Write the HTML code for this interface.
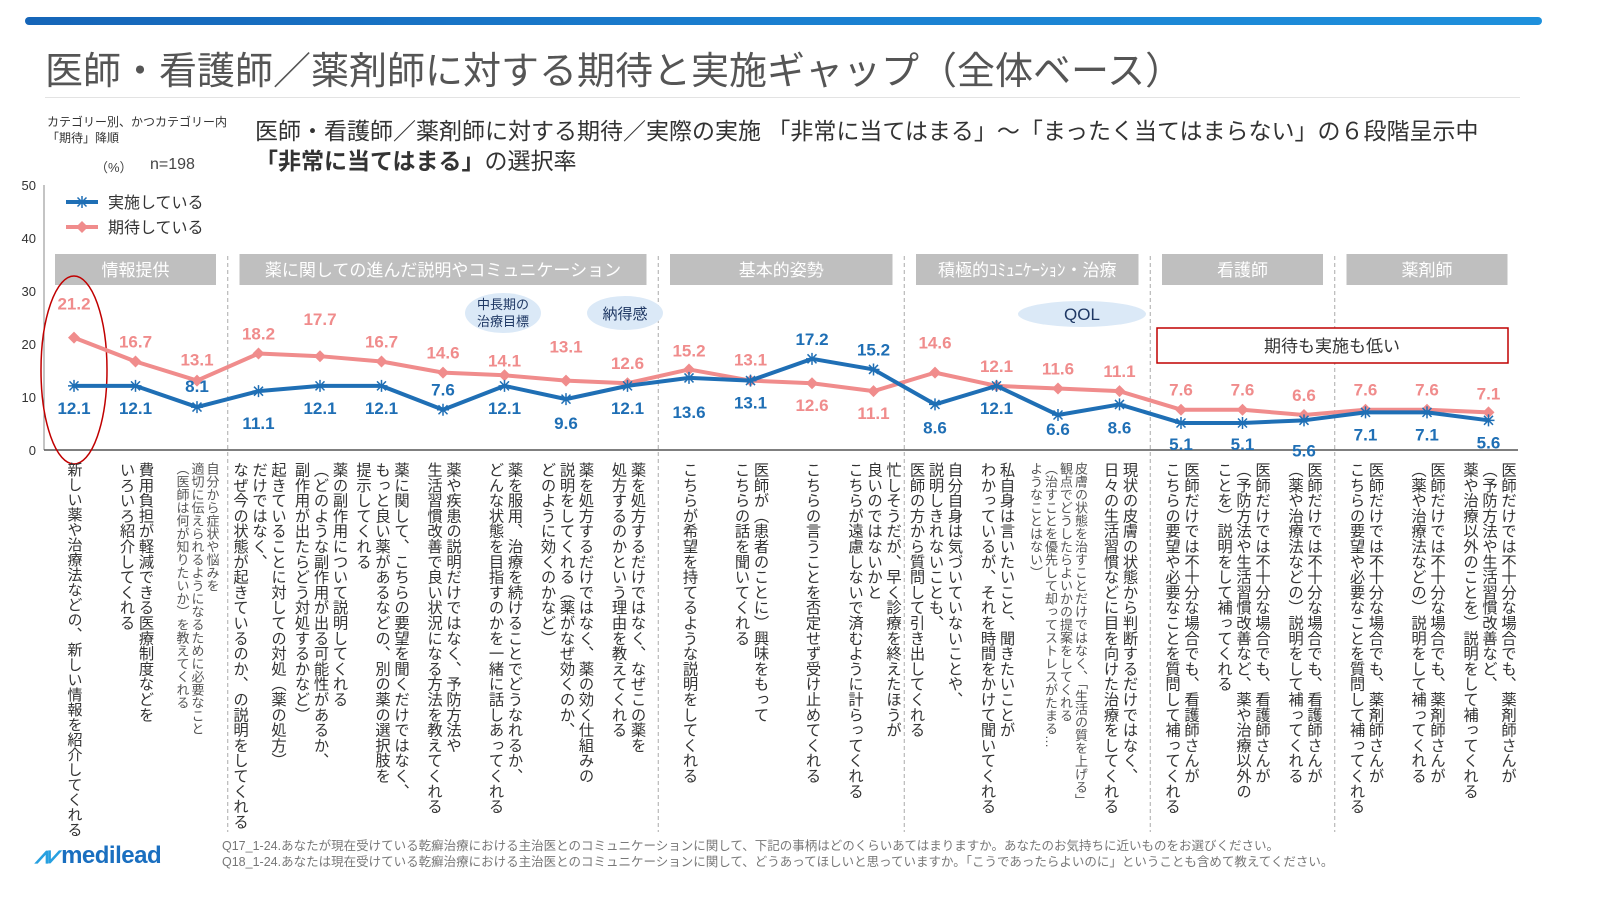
<!DOCTYPE html>
<html lang="ja"><head><meta charset="utf-8">
<style>
*{margin:0;padding:0;box-sizing:border-box}
body{width:1600px;height:900px;overflow:hidden;background:#fff;font-family:"Liberation Sans","Noto Sans CJK JP",sans-serif;color:#404040;position:relative}
.abs{position:absolute}
.xl{position:absolute;top:462px;height:382px;writing-mode:vertical-rl;font-size:15.3px;line-height:19px;color:#333;transform:translateX(-50%);white-space:normal}
.xl.sm{font-size:13px;line-height:15px;color:#555}
.xl.nw{white-space:nowrap;height:auto;font-size:15px}
</style></head><body>
<div class="abs" style="left:25px;top:17px;width:1517px;height:8px;border-radius:4px;background:linear-gradient(90deg,#1565b8,#1a7fd0 50%,#1e90dc)"></div>
<div class="abs" style="left:45px;top:40px;font-size:38px;color:#555;letter-spacing:0px">医師・看護師／薬剤師に対する期待と実施ギャップ（全体ベース）</div>
<div class="abs" style="left:45px;top:97px;width:1475px;height:1px;background:#e3e3e3"></div>
<div class="abs" style="left:47px;top:114px;font-size:12px;line-height:16px;color:#333">カテゴリー別、かつカテゴリー内<br>「期待」降順</div>
<div class="abs" style="left:95px;top:157px;font-size:13px;color:#444">（%）</div>
<div class="abs" style="left:150px;top:156px;font-size:16px;color:#444">n=198</div>
<div class="abs" style="left:255px;top:116px;font-size:23px;line-height:30px;color:#333">医師・看護師／薬剤師に対する期待／実際の実施 「非常に当てはまる」～「まったく当てはまらない」の６段階呈示中<br><b>「非常に当てはまる」</b>の選択率</div>

<svg class="abs" style="left:0;top:0" width="1600" height="900" id="chart"></svg>

<div id="xlabels"></div>

<div class="abs" style="left:35px;top:842px;font-size:24px;font-weight:bold;color:#1a6fc0;letter-spacing:-0.5px"><span style="color:#27a0e0">⩘⩗</span>medilead</div>
<div class="abs" style="left:222px;top:838px;font-size:12.5px;line-height:16px;color:#777">Q17_1-24.あなたが現在受けている乾癬治療における主治医とのコミュニケーションに関して、下記の事柄はどのくらいあてはまりますか。あなたのお気持ちに近いものをお選びください。<br>Q18_1-24.あなたは現在受けている乾癬治療における主治医とのコミュニケーションに関して、どうあってほしいと思っていますか。「こうであったらよいのに」ということも含めて教えてください。</div>

<script>
const implemented=[12.1,12.1,8.1,11.1,12.1,12.1,7.6,12.1,9.6,12.1,13.6,13.1,17.2,15.2,8.6,12.1,6.6,8.6,5.1,5.1,5.6,7.1,7.1,5.6];
const expected=[21.2,16.7,13.1,18.2,17.7,16.7,14.6,14.1,13.1,12.6,15.2,13.1,12.6,11.1,14.6,12.1,11.6,11.1,7.6,7.6,6.6,7.6,7.6,7.1];
const yTicks=[0,10,20,30,40,50];
const categories=["情報提供","薬に関しての進んだ説明やコミュニケーション","基本的姿勢","積極的ｺﾐｭﾆｹｰｼｮﾝ・治療","看護師","薬剤師"];
const categoryStart=[0,3,10,14,18,21];
const categoryEnd=[2,9,13,17,20,23];
const items=[
"新しい薬や治療法などの、新しい情報を紹介してくれる",
"費用負担が軽減できる医療制度などを<br>いろいろ紹介してくれる",
"自分から症状や悩みを<br>適切に伝えられるようになるために必要なこと<br>（医師は何が知りたいか）を教えてくれる",
"起きていることに対しての対処（薬の処方）<br>だけではなく、<br>なぜ今の状態が起きているのか、の説明をしてくれる",
"薬の副作用について説明してくれる<br>（どのような副作用が出る可能性があるか、<br>副作用が出たらどう対処するかなど）",
"薬に関して、こちらの要望を聞くだけではなく、<br>もっと良い薬があるなどの、別の薬の選択肢を<br>提示してくれる",
"薬や疾患の説明だけではなく、予防方法や<br>生活習慣改善で良い状況になる方法を教えてくれる",
"薬を服用、治療を続けることでどうなれるか、<br>どんな状態を目指すのかを一緒に話しあってくれる",
"薬を処方するだけではなく、薬の効く仕組みの<br>説明をしてくれる（薬がなぜ効くのか、<br>どのように効くのかなど）",
"薬を処方するだけではなく、なぜこの薬を<br>処方するのかという理由を教えてくれる",
"こちらが希望を持てるような説明をしてくれる",
"医師が（患者のことに）興味をもって<br>こちらの話を聞いてくれる",
"こちらの言うことを否定せず受け止めてくれる",
"忙しそうだが、早く診療を終えたほうが<br>良いのではないかと<br>こちらが遠慮しないで済むように計らってくれる",
"自分自身は気づいていないことや、<br>説明しきれないことも、<br>医師の方から質問して引き出してくれる",
"私自身は言いたいこと、聞きたいことが<br>わかっているが、それを時間をかけて聞いてくれる",
"皮膚の状態を治すことだけではなく、「生活の質を上げる」<br>観点でどうしたらよいかの提案をしてくれる<br>（治すことを優先して却ってストレスがたまる…<br>ようなことはない）",
"現状の皮膚の状態から判断するだけではなく、<br>日々の生活習慣などに目を向けた治療をしてくれる",
"医師だけでは不十分な場合でも、看護師さんが<br>こちらの要望や必要なことを質問して補ってくれる",
"医師だけでは不十分な場合でも、看護師さんが<br>（予防方法や生活習慣改善など、薬や治療以外の<br>ことを）説明をして補ってくれる",
"医師だけでは不十分な場合でも、看護師さんが<br>（薬や治療法などの）説明をして補ってくれる",
"医師だけでは不十分な場合でも、薬剤師さんが<br>こちらの要望や必要なことを質問して補ってくれる",
"医師だけでは不十分な場合でも、薬剤師さんが<br>（薬や治療法などの）説明をして補ってくれる",
"医師だけでは不十分な場合でも、薬剤師さんが<br>（予防方法や生活習慣改善など、<br>薬や治療以外のことを）説明をして補ってくれる"];
const smallItems=[2,16];
const noWrapItems=[0];
// label offsets (px, style only)
const expOff=[-34,-20,-21,-20,-37,-20,-20,-15,-34,-20,-19,-21,22,22,-30,-20,-20,-20,-20,-20,-20,-20,-20,-19];
const impOff=[22,22,-21,32,22,22,-20,22,24,22,34,22,-20,-20,23,22,14,23,21,21,30,22,22,22];

const NS="http://www.w3.org/2000/svg";
const svg=document.getElementById('chart');
const x0=74,dx=61.5,yBase=450,yScale=5.3;
const X=i=>x0+i*dx, Y=v=>yBase-v*yScale;
function mk(t,a,p){const e=document.createElementNS(NS,t);for(const k in a)e.setAttribute(k,a[k]);(p||svg).appendChild(e);return e;}

let ax=mk('line',{x1:44,y1:Y(50),x2:44,y2:yBase,stroke:'#888','stroke-width':1});


let bx=mk('line',{x1:44,y1:yBase,x2:1518,y2:yBase,stroke:'#555','stroke-width':1.5});


yTicks.forEach(v=>{const t=mk('text',{x:36,y:Y(v)+5,'text-anchor':'end','font-size':13,fill:'#333'});t.textContent=v;

});

categories.forEach((c,k)=>{
  const l=X(categoryStart[k])-19, r=X(categoryEnd[k])+19;
  const g=mk('g',{});
  
  
  mk('rect',{x:l,y:254,width:r-l,height:31,fill:'#bfbfbf'},g);
  const t=mk('text',{x:(l+r)/2,y:276,'text-anchor':'middle','font-size':17,fill:'#fff'},g);t.textContent=c;
  if(k>0){const sx=(X(categoryStart[k])+X(categoryEnd[k-1]))/2;
    const s=mk('line',{x1:sx,y1:256,x2:sx,y2:832,stroke:'#aaa','stroke-dasharray':'4,3','stroke-width':1});
    
    }
});

[[503,313,38,20,'中長期の','治療目標'],[625,313,38,17,'納得感',null],[1082,314,64,13,'QOL',null]].forEach(a=>{
  const g=mk('g',{});
  
  
  mk('ellipse',{cx:a[0],cy:a[1],rx:a[2],ry:a[3],fill:'#dbe9f7'},g);
  if(a[5]){const t=mk('text',{x:a[0],y:a[1]-4,'text-anchor':'middle','font-size':13,fill:'#1f3864'},g);t.textContent=a[4];
    const t2=mk('text',{x:a[0],y:a[1]+13,'text-anchor':'middle','font-size':13,fill:'#1f3864'},g);t2.textContent=a[5];}
  else{const t=mk('text',{x:a[0],y:a[1]+6,'text-anchor':'middle','font-size':a[4]=='QOL'?17:15,fill:'#1f3864'},g);t.textContent=a[4];}
});
const hl=mk('ellipse',{cx:74,cy:370,rx:33,ry:94,fill:'none',stroke:'#c00000','stroke-width':1.5});


const lb=mk('g',{});


mk('rect',{x:1157,y:328,width:351,height:35,fill:'#fff',stroke:'#c00000','stroke-width':1.5},lb);
const lbt=mk('text',{x:1332,y:352,'text-anchor':'middle','font-size':17,fill:'#333'},lb);lbt.textContent='期待も実施も低い';

function series(vals,color,name,marker){
  const p=mk('polyline',{points:vals.map((v,i)=>X(i)+','+Y(v)).join(' '),fill:'none',stroke:color,'stroke-width':4,'stroke-linejoin':'round'});
  
  
  vals.forEach((v,i)=>{const cx=X(i),cy=Y(v);let m;
    if(marker==='d'){m=mk('path',{d:`M${cx} ${cy-6}L${cx+6} ${cy}L${cx} ${cy+6}L${cx-6} ${cy}Z`,fill:color});}
    else{m=mk('path',{d:`M${cx-6} ${cy}H${cx+6}M${cx} ${cy-6}V${cy+6}M${cx-4.5} ${cy-4.5}L${cx+4.5} ${cy+4.5}M${cx-4.5} ${cy+4.5}L${cx+4.5} ${cy-4.5}`,stroke:color,'stroke-width':1.5,fill:'none'});}
    
    });
}
series(expected,'#f08c8c','expected','d');
series(implemented,'#1f6fb5','implemented','x');
expected.forEach((v,i)=>{const t=mk('text',{x:X(i),y:Y(v)+expOff[i]+6,'text-anchor':'middle','font-size':17,'font-weight':'bold',fill:'#f08c8c'});t.textContent=v.toFixed(1);
  
  });
implemented.forEach((v,i)=>{const t=mk('text',{x:X(i),y:Y(v)+impOff[i]+6,'text-anchor':'middle','font-size':17,'font-weight':'bold',fill:'#1f6fb5'});t.textContent=v.toFixed(1);
  
  });

const lg=mk('g',{});


mk('line',{x1:66,y1:202,x2:98,y2:202,stroke:'#1f6fb5','stroke-width':4},lg);
mk('path',{d:'M76 202H88M82 196V208M77.5 197.5L86.5 206.5M77.5 206.5L86.5 197.5',stroke:'#1f6fb5','stroke-width':1.5},lg);
let lt=mk('text',{x:108,y:208,'font-size':16,fill:'#333'},lg);lt.textContent='実施している';
mk('line',{x1:66,y1:227,x2:98,y2:227,stroke:'#f08c8c','stroke-width':4},lg);
mk('path',{d:'M82 221L88 227L82 233L76 227Z',fill:'#f08c8c'},lg);
lt=mk('text',{x:108,y:233,'font-size':16,fill:'#333'},lg);lt.textContent='期待している';

const xc=document.getElementById('xlabels');
items.forEach((s,i)=>{const d=document.createElement('div');
  d.className='xl'+(smallItems.includes(i)?' sm':'')+(noWrapItems.includes(i)?' nw':'');
  d.style.left=X(i)+'px';d.innerHTML=s;
  
  
  xc.appendChild(d);});
</script>
</body></html>
